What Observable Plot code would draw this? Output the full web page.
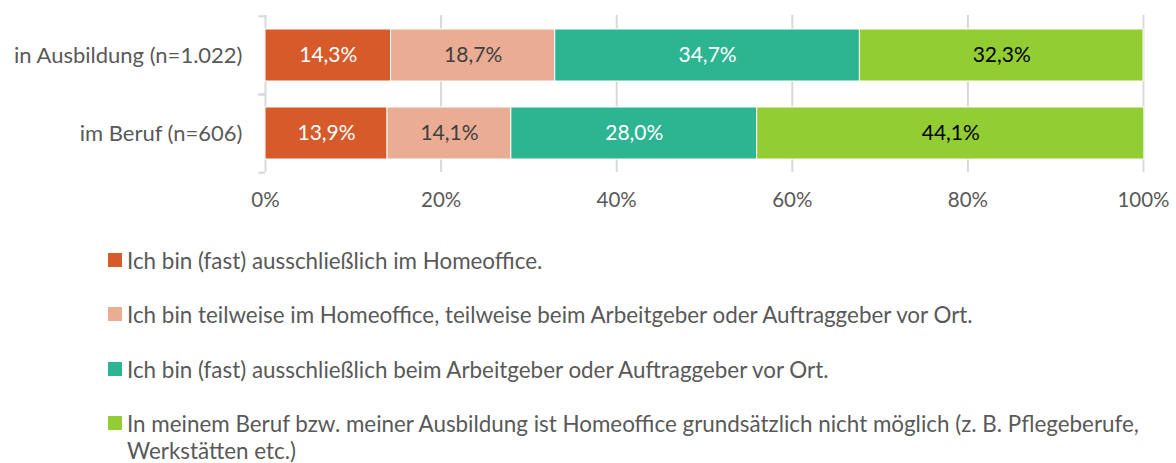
<!DOCTYPE html>
<html>
<head>
<meta charset="utf-8">
<script src="https://cdn.jsdelivr.net/npm/d3@7"></script>
<script src="https://cdn.jsdelivr.net/npm/@observablehq/plot@0.6"></script>
<style>
  html, body { margin: 0; padding: 0; background: #fff; }
  body { width: 1176px; height: 463px; position: relative; overflow: hidden; font-family: Lato, "Open Sans", sans-serif; }
  #chart { position: absolute; left: 0; top: 0; }
  .leg { position: absolute; left: 108px; font-size: 22.4px; color: #595959; line-height: 27px; }
  .leg .sw { position: absolute; left: 0; top: 6px; width: 14px; height: 14px; }
  .leg .tx { margin-left: 19px; white-space: nowrap; }
</style>
</head>
<body>
<div id="chart"></div>
<div id="legend"></div>
<script>
const rows = ["in Ausbildung (n=1.022)", "im Beruf (n=606)"];
const categories = [
  "Ich bin (fast) ausschließlich im Homeoffice.",
  "Ich bin teilweise im Homeoffice, teilweise beim Arbeitgeber oder Auftraggeber vor Ort.",
  "Ich bin (fast) ausschließlich beim Arbeitgeber oder Auftraggeber vor Ort.",
  "In meinem Beruf bzw. meiner Ausbildung ist Homeoffice grundsätzlich nicht möglich (z. B. Pflegeberufe, Werkstätten etc.)"
];
const valuesAusbildung = [14.3, 18.7, 34.7, 32.3];
const valuesBeruf = [13.9, 14.1, 28.0, 44.1];
const colors = ["#D65A2A", "#EAAC93", "#2DB592", "#92CD33"];
const labelColors = ["#ffffff", "#404040", "#ffffff", "#000000"];
const xTicks = [0, 20, 40, 60, 80, 100];

const seriesValues = [valuesAusbildung, valuesBeruf];
const data = [];
rows.forEach((r, i) => categories.forEach((c, j) => data.push({row: r, cat: c, value: seriesValues[i][j], ci: j})));

const fmt = v => v.toFixed(1).replace(".", ",") + "%";
const font = "Lato, 'Open Sans', sans-serif";

const plot = Plot.plot({
  width: 1176,
  height: 225,
  marginTop: 15,
  marginBottom: 53,
  marginLeft: 265,
  marginRight: 33,
  style: {fontFamily: font, fontSize: "22px", color: "#595959", background: "#fff"},
  x: {domain: [0, 100]},
  y: {domain: rows, paddingInner: 1/3, paddingOuter: 1/6},
  color: {domain: categories, range: colors},
  marks: [
    Plot.ruleX(xTicks, {stroke: "#d9d9d9", strokeWidth: 2}),
    Plot.ruleY(rows, {y: d => d, x1: -0.75, x2: 0, dy: -39.25, stroke: "#d9d9d9", strokeWidth: 2}),
    Plot.ruleY(rows, {y: d => d, x1: -0.75, x2: 0, dy: 39.25, stroke: "#d9d9d9", strokeWidth: 2}),
    Plot.barX(data, Plot.stackX({x: "value", y: "row", fill: "cat", order: categories, stroke: "#fff", strokeWidth: 1})),
    Plot.text(data, Plot.stackX({x: "value", y: "row", z: "cat", order: categories, text: d => fmt(d.value), fill: d => labelColors[d.ci], fontSize: 21})),
    Plot.axisX(xTicks, {tickSize: 0, tickPadding: 20, tickFormat: d => d + "%", fontSize: 20.5, fill: "#595959", label: null}),
    Plot.axisY({tickSize: 0, tickPadding: 23, fontSize: 22, fill: "#595959", label: null})
  ]
});
document.getElementById("chart").appendChild(plot);

const legend = document.getElementById("legend");
const tops = [247, 301, 356, 410];
categories.forEach((c, i) => {
  const div = document.createElement("div");
  div.className = "leg";
  div.style.top = tops[i] + "px";
  const sw = document.createElement("span");
  sw.className = "sw";
  sw.style.background = colors[i];
  div.appendChild(sw);
  const tx = document.createElement("div");
  tx.className = "tx";
  if (i === 3) {
    tx.innerHTML = "In meinem Beruf bzw. meiner Ausbildung ist Homeoffice grundsätzlich nicht möglich (z. B. Pflegeberufe,<br>Werkstätten etc.)";
  } else {
    tx.textContent = c;
  }
  div.appendChild(tx);
  legend.appendChild(div);
});
</script>
</body>
</html>
